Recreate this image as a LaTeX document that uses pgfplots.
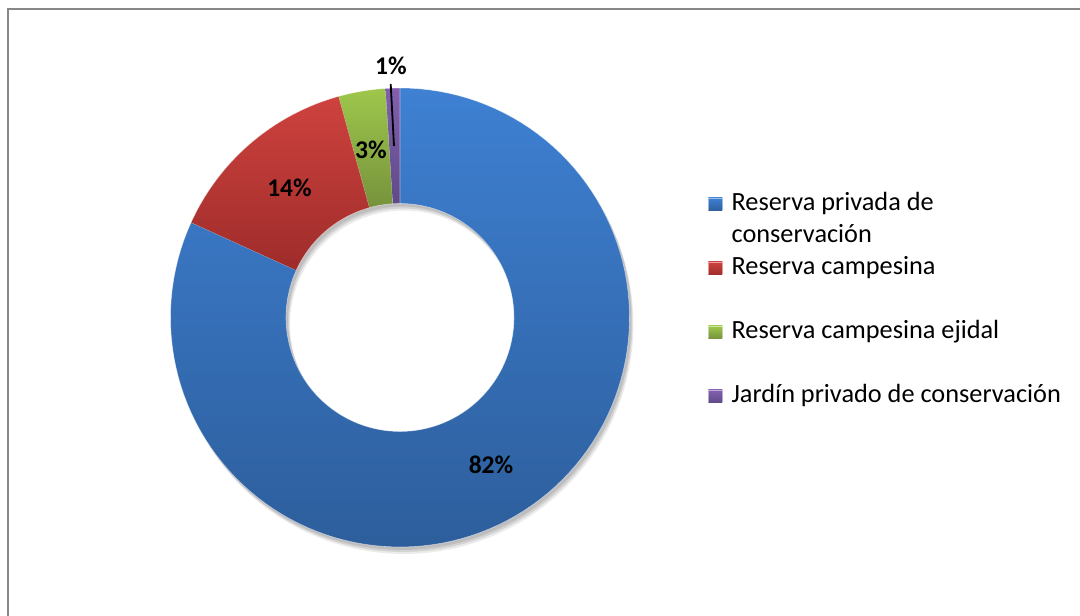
\documentclass[border=0pt]{standalone}
\usepackage{fontspec}
\setmainfont{Carlito}
\usepackage{pgfplots}
\usepackage{pgfplotstable}
\pgfplotsset{compat=1.18}

\pgfplotstableread{
label value
A 81.8
B 13.9
C 3.3
D 1.0
}\datatable

\definecolor{bluetop}{RGB}{62,128,210}
\definecolor{bluebot}{RGB}{45,94,156}
\definecolor{redtop}{RGB}{206,66,62}
\definecolor{redbot}{RGB}{158,44,42}
\definecolor{greentop}{RGB}{158,199,75}
\definecolor{greenbot}{RGB}{118,146,60}
\definecolor{purptop}{RGB}{130,96,176}
\definecolor{purpbot}{RGB}{94,74,135}
\definecolor{framegray}{RGB}{136,136,136}

\def\cx{400}
\def\cy{298.5}
\def\Ro{229.5}
\def\Ri{114}

% #1 options, #2 start angle, #3 end angle, #4 dx, #5 dy
\newcommand\seg[5]{%
\addplot[#1, domain=0:2, samples=241, variable=\t]
 ({\cx+(#4)+((\t<=1.001) ? \Ro : \Ri)*cos(((\t<=1.001) ? ((#2)+((#3)-(#2))*min(\t,1)) : ((#3)-((#3)-(#2))*max(0,\t-1.05)/0.95)))},
  {\cy+(#5)+((\t<=1.001) ? \Ro : \Ri)*sin(((\t<=1.001) ? ((#2)+((#3)-(#2))*min(\t,1)) : ((#3)-((#3)-(#2))*max(0,\t-1.05)/0.95)))});
}

\begin{document}
\begin{tikzpicture}
\pgfplotstablegetelem{0}{value}\of\datatable \let\va\pgfplotsretval
\pgfplotstablegetelem{1}{value}\of\datatable \let\vb\pgfplotsretval
\pgfplotstablegetelem{2}{value}\of\datatable \let\vc\pgfplotsretval
\pgfplotstablegetelem{3}{value}\of\datatable \let\vd\pgfplotsretval
\pgfmathsetmacro\aA{90}
\pgfmathsetmacro\aB{\aA-3.6*\va}
\pgfmathsetmacro\aC{\aB-3.6*\vb}
\pgfmathsetmacro\aD{\aC-3.6*\vc}
\pgfmathsetmacro\aE{\aD-3.6*\vd}
\begin{axis}[
  scale only axis, width=1080pt, height=616pt,
  xmin=0, xmax=1080, ymin=0, ymax=616,
  enlargelimits=false, hide axis, clip=false,
  legend style={at={(axis cs:708,425)}, anchor=north west, draw=none, fill=none,
    inner sep=0pt, outer sep=0pt, row sep=38pt, column sep=0pt,
    font=\fontsize{26.3}{32}\selectfont,
    nodes={inner sep=0pt, outer sep=0pt, text height=20pt, text depth=6pt}},
  legend cell align=left,
  legend image code/.code={\fill[#1] (0pt,-7pt) rectangle (14pt,6pt); \path (23pt,0pt);},
]
% frame
\draw[framegray, line width=2pt] (axis cs:8,0) -- (axis cs:8,607) -- (axis cs:1080,607);
% shadow
\seg{fill=black, fill opacity=0.10, draw=none, forget plot}{90}{-270}{2}{-3}
\seg{fill=black, fill opacity=0.10, draw=none, forget plot}{90}{-270}{3}{-5}
\seg{fill=black, fill opacity=0.08, draw=none, forget plot}{90}{-270}{4}{-7}
% slices
\seg{top color=bluetop, bottom color=bluebot, draw=white, draw opacity=0.5, line width=0.6pt}{\aA}{\aB}{0}{0}
\addlegendentry{\parbox[t]{320pt}{Reserva privada de\\conservación}}
\seg{top color=redtop, bottom color=redbot, draw=white, draw opacity=0.5, line width=0.6pt}{\aB}{\aC}{0}{0}
\addlegendentry{Reserva campesina}
\seg{top color=greentop, bottom color=greenbot, draw=white, draw opacity=0.5, line width=0.6pt}{\aC}{\aD}{0}{0}
\addlegendentry{Reserva campesina ejidal}
\seg{top color=purptop, bottom color=purpbot, draw=white, draw opacity=0.5, line width=0.6pt}{\aD}{\aE}{0}{0}
\addlegendentry{Jardín privado de conservación}
% labels
\node[font=\bfseries\fontsize{25.5}{30}\selectfont] at (axis cs:491,151) {82\%};
\node[font=\bfseries\fontsize{25.5}{30}\selectfont] at (axis cs:289.5,428.5) {14\%};
\node[font=\bfseries\fontsize{25.5}{30}\selectfont] at (axis cs:371,466) {3\%};
\node[font=\bfseries\fontsize{25.5}{30}\selectfont] at (axis cs:391,550.5) {1\%};
\draw[black, line width=1.8pt] (axis cs:390.7,532) -- (axis cs:394,470);
\end{axis}
\pgfresetboundingbox
\path (current axis.south west) rectangle (current axis.north east);
\end{tikzpicture}
\end{document}
